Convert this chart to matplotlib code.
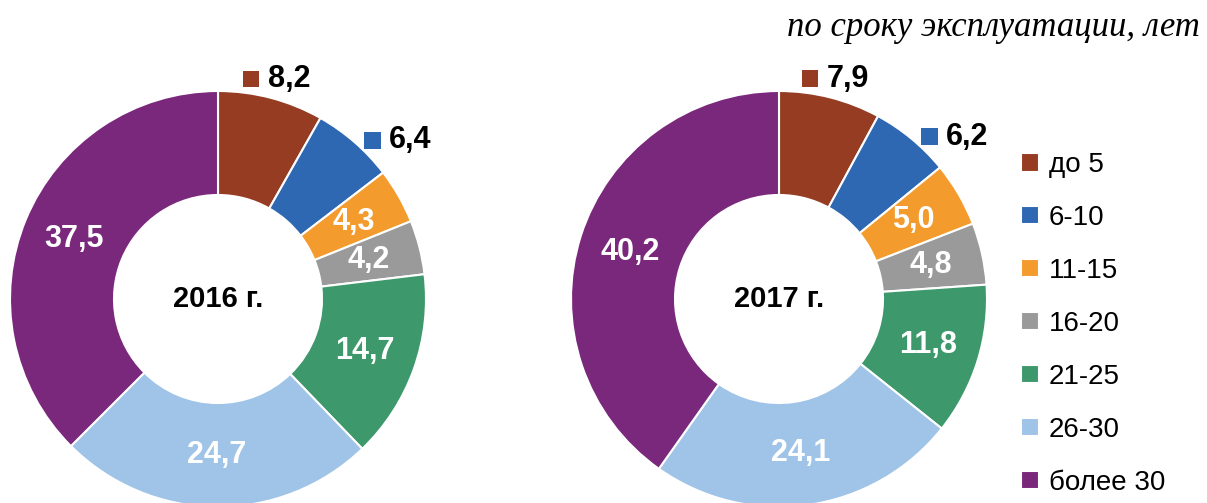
import numpy as np
import matplotlib
matplotlib.use('Agg')
import matplotlib.pyplot as plt
from matplotlib.patches import Rectangle
from matplotlib.offsetbox import DrawingArea, TextArea, HPacker, AnnotationBbox

categories = ['до 5', '6-10', '11-15', '16-20', '21-25', '26-30', 'более 30']
values_2016 = [8.2, 6.4, 4.3, 4.2, 14.7, 24.7, 37.5]
values_2017 = [7.9, 6.2, 5.0, 4.8, 11.8, 24.1, 40.2]
years = ['2016 г.', '2017 г.']
colors = ['#963C22', '#2E67B2', '#F39B2D', '#9A9A9A', '#3D996B', '#9FC4E7', '#7A287B']
outside = [0, 1]  # small slices labelled outside the ring

plt.rcParams['font.family'] = ['Liberation Sans', 'DejaVu Sans']

W, H = 1207, 503
fig = plt.figure(figsize=(W / 100, H / 100), dpi=100)

R = 208      # outer radius, px
LIM = 1.25   # axes half-range in radius units


def fmt(v):
    return f'{v:.1f}'.replace('.', ',')


def donut(cx, cy, values, year):
    side = 2 * R * LIM
    ax = fig.add_axes([(cx - side / 2) / W, (H - cy - side / 2) / H, side / W, side / H])
    wedges, _ = ax.pie(values, colors=colors, startangle=90, counterclock=False, radius=1,
                       wedgeprops=dict(width=0.5, edgecolor='white', linewidth=1.5))
    ax.set_xlim(-LIM, LIM)
    ax.set_ylim(-LIM, LIM)
    ax.set_aspect('equal')
    ax.axis('off')

    for i, (w, v) in enumerate(zip(wedges, values)):
        deg = (w.theta1 + w.theta2) / 2
        ang = np.deg2rad(deg)
        if i in outside:
            da = DrawingArea(12, 12, 0, 0)
            da.add_artist(Rectangle((0, 0), 12, 12, facecolor=colors[i], edgecolor='none'))
            ta = TextArea(fmt(v), textprops=dict(fontsize=22, fontweight='bold', color='black'))
            box = HPacker(children=[da, ta], align='center', pad=0, sep=6)
            if deg % 360 > 60:
                r, align, off = 1.1, (0.5, 0.5), (0, -1)
            else:
                r, align, off = 1.03, (0.0, 0.5), (4, -2)
            ab = AnnotationBbox(box, (r * np.cos(ang), r * np.sin(ang)), xybox=off,
                                boxcoords='offset points', box_alignment=align,
                                frameon=False, pad=0)
            ax.add_artist(ab)
        else:
            ax.text(0.75 * np.cos(ang), 0.75 * np.sin(ang), fmt(v), ha='center', va='center',
                    color='white', fontsize=22, fontweight='bold')
    ax.text(0, 0, year, ha='center', va='center', fontsize=21, fontweight='bold')
    return wedges


wedges = donut(218, 299, values_2016, years[0])
donut(779, 299, values_2017, years[1])

fig.legend(handles=wedges, labels=categories, loc='upper left',
           bbox_to_anchor=(1021 / W, 1 - 152 / H), frameon=False, fontsize=20,
           handlelength=0.65, handleheight=0.65, handletextpad=0.35,
           labelspacing=0.97, borderpad=0, borderaxespad=0)

fig.text(1200 / W, 1 - 28 / H, 'по сроку эксплуатации, лет', ha='right', va='center',
         family='Liberation Serif', style='italic', fontsize=25)

fig.savefig('out.png', dpi=100)
